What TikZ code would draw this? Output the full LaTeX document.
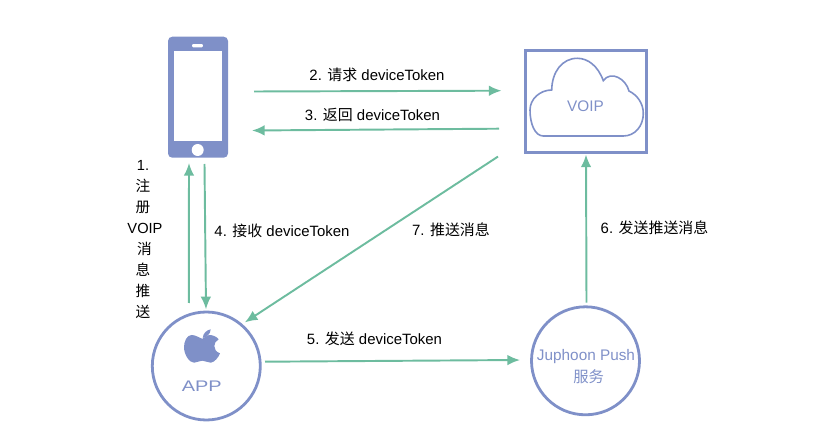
\documentclass[tikz,border=0pt]{standalone}
\usepackage{fontspec}
\setmainfont{Liberation Sans}
\newfontfamily\cjk{Noto Sans CJK SC}
\usetikzlibrary{arrows.meta,positioning}
\definecolor{flowgreen}{HTML}{6DBC9F}
\definecolor{devblue}{HTML}{7F90C8}

\begin{document}
\begin{tikzpicture}[
  x=0.75pt, y=-0.75pt,
  flow/.style={draw=flowgreen, line width=1.45pt, -{Latex[length=9.5pt,width=8pt]}},
  lbl/.style={font=\fontsize{11.2pt}{13pt}\selectfont, text=black, inner sep=0pt},
  devlbl/.style={font=\fontsize{11.5pt}{14pt}\selectfont, text=devblue, inner sep=0pt},
  phonebody/.style={rectangle, fill=devblue, rounded corners=3.2pt, minimum width=45pt, minimum height=90.75pt, inner sep=0pt, outer sep=0pt},
  hole/.style={rectangle, fill=white, inner sep=0pt, outer sep=0pt},
  srvbox/.style={rectangle, draw=devblue, line width=2.2pt, minimum width=90.75pt, minimum height=76.3pt, inner sep=0pt, outer sep=0pt},
  srvcircle/.style={circle, draw=devblue, line width=2.1pt, minimum size=81pt, inner sep=0pt, outer sep=0pt}
]

\useasboundingbox (0,0) rectangle (839,438);

\node[phonebody] (phone) at (198,97.2) {};
\node[hole, minimum width=36pt, minimum height=68pt] (screen) at (197.7,96) {};
\node[hole, rounded corners=0.8pt, minimum width=8.2pt, minimum height=2.4pt] (speaker) at (197.5,45.7) {};
\node[hole, circle, minimum size=9pt] (homekey) at (197.7,150) {};

\node[srvbox] (voip) at (586,101.7) {};
\draw[devblue, line width=1.2pt] (543.3,136) -- (623.3,136)
  .. controls (635,136) and (643.3,126) .. (643.3,113.5)
  .. controls (643.3,103) and (637,95) .. (629,91)
  .. controls (626,79) and (611,70) .. (603.3,80.7)
  .. controls (598,66) and (588,58.3) .. (577.3,58.3)
  .. controls (562,58.3) and (552,72) .. (551.7,90)
  .. controls (540,90) and (530,99) .. (530,110)
  .. controls (530,124) and (535,136) .. (543.3,136) -- cycle;
\node[devlbl] (voiptext) at (585.5,106.5) {VOIP};

\node[srvcircle] (app) at (206.3,366) {};
\fill[devblue] (202.3,338.8)
  .. controls (198,337) and (195,335) .. (191.7,335)
  .. controls (187,335) and (184,341) .. (184,347.3)
  .. controls (184,354) and (189,362.7) .. (194,362.7)
  .. controls (197,362.7) and (199,360.7) .. (202.3,360.7)
  .. controls (206,360.7) and (207,362.7) .. (210.7,362.7)
  .. controls (214,362.7) and (219,357) .. (220,353.3)
  .. controls (216,352) and (214.3,349) .. (214.3,346)
  .. controls (214.3,343) and (216,341) .. (218.7,339.3)
  .. controls (216,336) and (212,335) .. (209.3,335)
  .. controls (207,335) and (205,337.5) .. (202.3,338.8) -- cycle;
\fill[devblue] (202.7,338)
  .. controls (203,333) and (207,330) .. (210.7,329.3)
  .. controls (210.5,334) and (206.5,337.5) .. (202.7,338) -- cycle;
\node[devlbl] (apptext) at (201.7,386) {\scalebox{1.3}[1]{APP}};

\node[srvcircle] (push) at (585.5,360.8) {};
\node[devlbl] (pushtext) at (586,357) {Juphoon Push};
\node[devlbl, below=4pt of pushtext.south, xshift=2pt] (pushcn) {\cjk 服务};

\node[lbl] (step2) at (377,75) {2. {\cjk 请求} deviceToken};
\node[lbl] (step3) at (372.5,115) {3. {\cjk 返回} deviceToken};
\node[lbl] (step4) at (282,230.5) {4. {\cjk 接收} deviceToken};
\node[lbl] (step5) at (374.5,339) {5. {\cjk 发送} deviceToken};
\node[lbl] (step6) at (654.5,228) {6. {\cjk 发送推送消息}};
\node[lbl] (step7) at (451,230) {7. {\cjk 推送消息}};
\node[lbl, align=center, font=\fontsize{11pt}{15.7pt}\selectfont] (step1) at (143,239.5)
  {1.\\{\cjk 注}\\{\cjk 册}\\\hspace*{3pt}VOIP\\\hspace*{2pt}{\cjk 消}\\{\cjk 息}\\{\cjk 推}\\{\cjk 送}};

\draw[flow] ([shift={(26,-5.7)}]phone.east) -- ([shift={(-24,-11)}]voip.west);
\draw[flow] ([shift={(-26.5,27)}]voip.west) -- ([shift={(24,33.3)}]phone.east);
\draw[flow] ([shift={(-17.5,-9)}]app.north) -- ([shift={(-9,5.3)}]phone.south);
\draw[flow] ([shift={(6.5,6.3)}]phone.south) -- ([shift={(-0.3,-2.7)}]app.north);
\draw[flow] ([shift={(-27.5,4)}]voip.south west) -- ([shift={(0.3,-5.4)}]app.north east);
\draw[flow] ([shift={(4.7,-4.3)}]app.east) -- ([shift={(-11.5,-0.8)}]push.west);
\draw[flow] ([shift={(1,-4.1)}]push.north) -- ([shift={(0,2)}]voip.south);

\end{tikzpicture}
\end{document}
